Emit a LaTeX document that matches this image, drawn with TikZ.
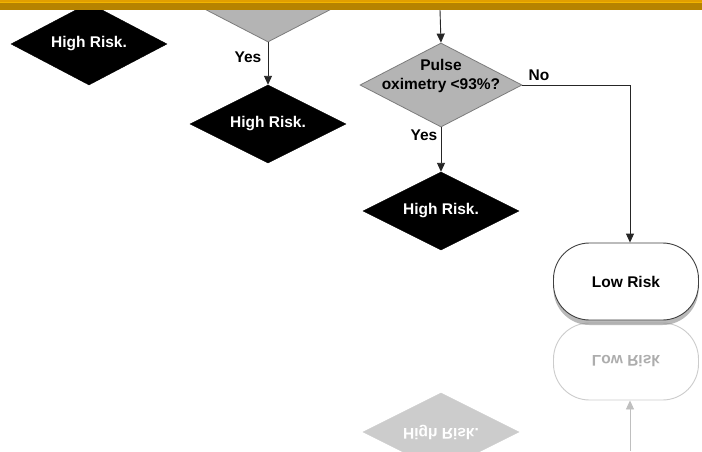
\documentclass[tikz,border=0pt]{standalone}
\usepackage{fontspec}
\setmainfont{Liberation Sans}
\usetikzlibrary{shapes.geometric,arrows.meta,shadows}
\definecolor{barfill}{HTML}{B68300}
\definecolor{bartop}{HTML}{E29F00}
\definecolor{barline}{HTML}{F2B400}
\definecolor{diagray}{HTML}{B4B4B4}
\definecolor{diaedge}{HTML}{7C7C7C}
\begin{document}
\begin{tikzpicture}[x=1pt,y=-1pt,
  txt/.style={font=\fontsize{15.5}{19}\selectfont\bfseries},
  blackdia/.style={diamond, aspect=2, fill=black, draw=black, inner sep=0pt,
    minimum width=156pt, minimum height=78pt, text=white, txt},
  graydia/.style={diamond, aspect=2, fill=diagray, draw=diaedge, line width=0.8pt,
    inner sep=0pt, minimum width=162pt, minimum height=84pt, txt},
  lowbox/.style={rectangle, rounded corners=36pt, draw=black!75, line width=0.9pt,
    fill=white, minimum width=145pt, minimum height=77pt, txt},
  refldia/.style={blackdia, fill=black!20, draw=black!20},
  reflbox/.style={lowbox, draw=black!20, text=black!32},
  conn/.style={draw=black!85, line width=0.9pt},
  arr/.style={conn, -{Triangle[length=9pt,width=8pt]}},
  reflarr/.style={draw=black!25, line width=0.9pt, -{Triangle[length=9pt,width=8pt]}},
  lbl/.style={txt, inner sep=1pt}
]
\useasboundingbox (0,0) rectangle (702,451);
\fill[white] (0,0) rectangle (702,451);

% reflection
\begin{scope}[shift={(0,643)}, yscale=-1]
  \node[refldia, transform shape] (h3r) at (441,211) {High Risk.};
  \node[reflbox, transform shape] (lowr) at (626,281.5) {Low Risk};
  \coordinate (rstart) at (630,192);
  \draw[reflarr] (rstart) -- (rstart |- lowr.north);
\end{scope}

% main flow
\node[graydia] (q1) at (268,0) {};
\node[blackdia, minimum height=82pt] (h1) at (89,44) {High Risk.};
\node[blackdia] (h2) at (268,124) {High Risk.};
\node[graydia] (pulse) at (441,85)
  {\raisebox{5.5pt}[0pt][0pt]{\begin{tabular}{@{}c@{}}Pulse\\oximetry <93\%?\end{tabular}}};
\node[blackdia] (h3) at (441,211) {High Risk.};
\node[lowbox, drop shadow={shadow xshift=0pt, shadow yshift=-5pt, opacity=0.55}] (low) at (626,281.5) {Low Risk};

\coordinate (topin) at (440,10);
\coordinate (noturn) at (630,85);

\draw[arr] (topin) -- (pulse.north);
\draw[arr] (q1.south) -- (h2.north);
\draw[arr] (pulse.south) -- (h3.north);
\draw[conn] (pulse.east) -- (noturn);
\draw[arr] (noturn) -- (noturn |- low.north);

\node[lbl] (yes1) at (248,57) {Yes};
\node[lbl] (no) at (539,75) {No};
\node[lbl] (yes2) at (424,135) {Yes};

% top bar
\fill[barfill] (0,0) rectangle (702,10);
\fill[bartop] (0,0) rectangle (702,2);
\fill[barline] (0,2) rectangle (702,3.3);
\end{tikzpicture}
\end{document}
